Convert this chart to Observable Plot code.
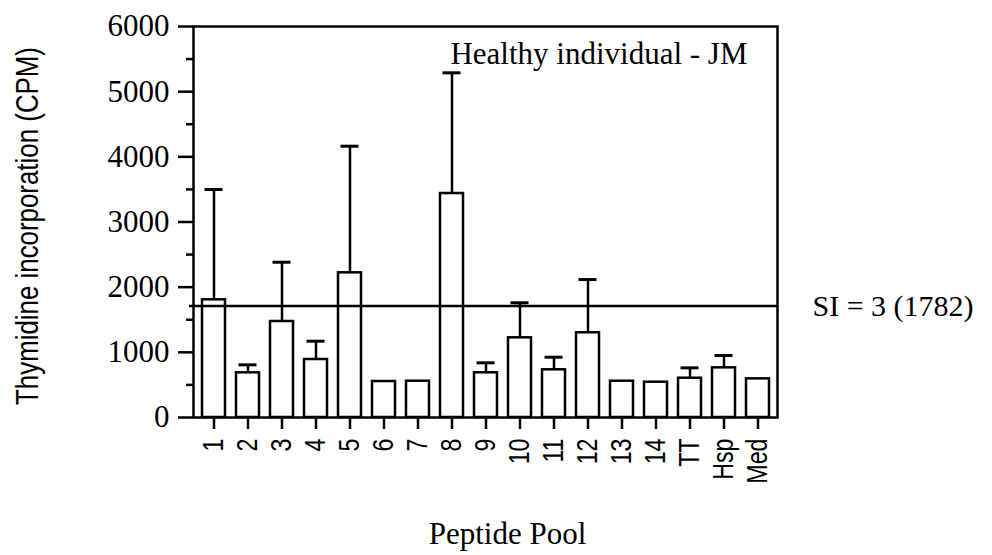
<!DOCTYPE html>
<html><head><meta charset="utf-8">
<script src="https://cdn.jsdelivr.net/npm/d3@7"></script>
<script src="https://cdn.jsdelivr.net/npm/@observablehq/plot@0.6"></script>
<style>body{margin:0;background:#fff}</style>
</head><body><div id="chart"></div>
<script>
const pools = ["1","2","3","4","5","6","7","8","9","10","11","12","13","14","TT","Hsp","Med"];
const cpm = [1806, 686, 1473, 890, 2220, 552, 557, 3437, 686, 1223, 732, 1300, 557, 542, 603, 762, 593];
const errorTop = [3499, 808, 2383, 1171, 4163, null, null, 5289, 839, 1760, 925, 2117, null, null, 762, 951, null];
const siLine = 1710;
const siLabel = "SI = 3 (1782)";
const yTicks = [0, 1000, 2000, 3000, 4000, 5000, 6000];
const yMinorTicks = [500, 1500, 2500, 3500, 4500, 5500];
const title = "Healthy individual - JM";
const yLabel = "Thymidine incorporation (CPM)";
const xLabel = "Peptide Pool";

const serif = "'Liberation Serif', 'Times New Roman', serif";
const sans = "'Liberation Sans', Arial, sans-serif";

const rows = pools.map((p, i) => ({pool: p, cpm: cpm[i], err: errorTop[i]}));
const errRows = rows.filter(d => d.err != null);

const chart = Plot.plot({
  width: 992, height: 555,
  marginLeft: 193, marginRight: 215, marginTop: 26, marginBottom: 138,
  style: {background: "white", color: "black", overflow: "visible"},
  x: {domain: pools, paddingInner: 0.33, paddingOuter: 0.1},
  y: {domain: [0, 6000]},
  marks: [
    Plot.ruleX(errRows, {x: "pool", y1: "cpm", y2: "err", stroke: "black", strokeWidth: 2.5}),
    Plot.tickY(errRows, {x: "pool", y: "err", stroke: "black", strokeWidth: 3, inset: 2.5}),
    Plot.barY(rows, {x: "pool", y: "cpm", fill: "white", stroke: "black", strokeWidth: 2.5}),
    Plot.ruleY([siLine], {stroke: "black", strokeWidth: 2.5, insetLeft: -4}),
    Plot.frame({stroke: "black", strokeWidth: 2.5}),
    Plot.axisY({ticks: yTicks, tickSize: 15, tickPadding: 9, fontSize: 31, fontFamily: serif, strokeWidth: 2.5, label: null, tickFormat: d => String(d)}),
    Plot.axisY({ticks: yMinorTicks, tickSize: 7, text: null, strokeWidth: 2.5, label: null}),
    Plot.axisX({tickSize: 12, tickPadding: 9, tickRotate: -90, fontSize: 29, fontFamily: sans, strokeWidth: 2.5, label: null}),
    Plot.text([title], {frameAnchor: "top-right", textAnchor: "end", lineAnchor: "bottom", dx: -30, dy: 37, fontSize: 31, fontFamily: serif}),
    Plot.text([{v: siLine, t: siLabel}], {y: "v", text: "t", frameAnchor: "right", textAnchor: "start", lineAnchor: "middle", dx: 35, fontSize: 30, fontFamily: serif}),
    Plot.text([yLabel], {frameAnchor: "left", textAnchor: "middle", lineAnchor: "middle", rotate: -90, dx: -165, dy: 4, fontSize: 31, fontFamily: sans}),
    Plot.text([xLabel], {frameAnchor: "bottom", textAnchor: "middle", lineAnchor: "bottom", dx: 22, dy: 126, fontSize: 31, fontFamily: serif})
  ]
});
document.getElementById("chart").appendChild(chart);

// condense the sans-serif labels like the narrow face of the original
function condense(el, k) {
  const t = el.getAttribute("transform") || "";
  el.setAttribute("transform", (t + ` scale(${k},1)`).trim());
}
d3.select(chart).selectAll("text").each(function() {
  if (this.textContent === yLabel) condense(this, 358 / this.getComputedTextLength());
});
d3.select(chart).selectAll('g[aria-label="x-axis tick label"] text').each(function() {
  condense(this, 0.8);
});
</script>
</body></html>
